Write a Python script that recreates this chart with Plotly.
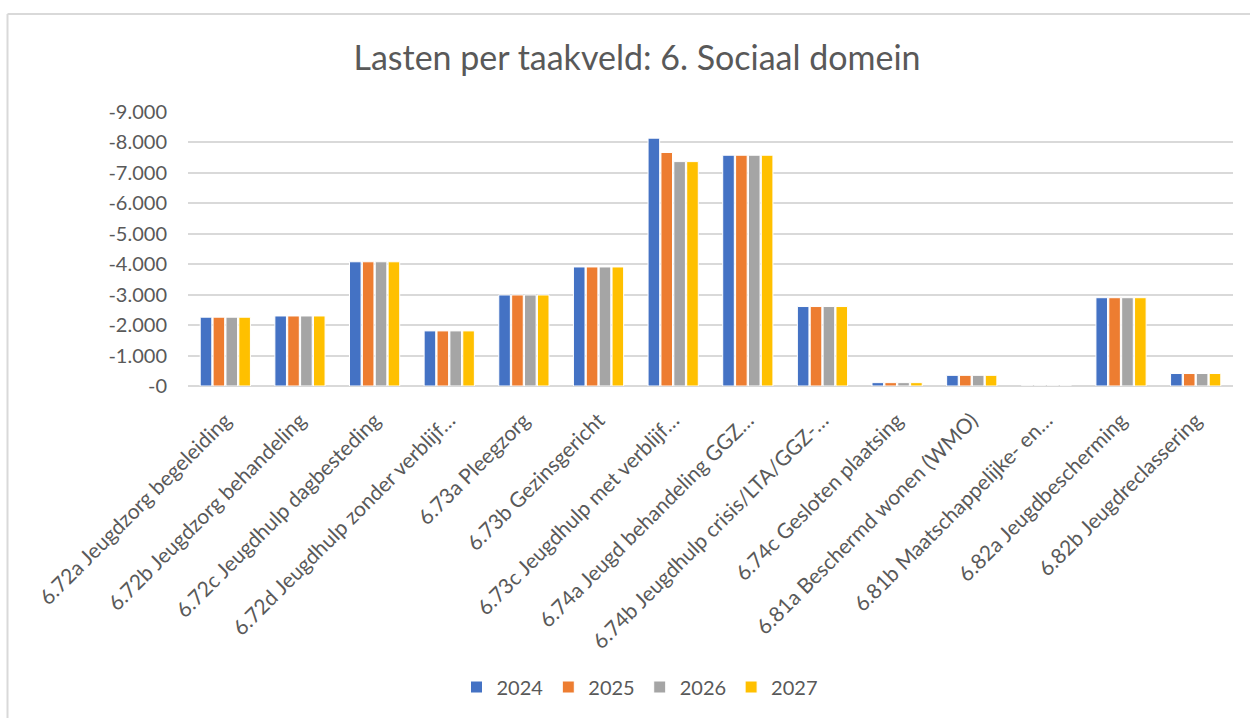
import plotly.graph_objects as go

categories = [
    "6.72a Jeugdzorg begeleiding",
    "6.72b Jeugdzorg behandeling",
    "6.72c Jeugdhulp dagbesteding",
    "6.72d Jeugdhulp zonder verblijf…",
    "6.73a Pleegzorg",
    "6.73b Gezinsgericht",
    "6.73c Jeugdhulp met verblijf…",
    "6.74a Jeugd behandeling GGZ…",
    "6.74b Jeugdhulp crisis/LTA/GGZ-…",
    "6.74c Gesloten plaatsing",
    "6.81a Beschermd wonen (WMO)",
    "6.81b Maatschappelijke- en…",
    "6.82a Jeugdbescherming",
    "6.82b Jeugdreclassering",
]

v2024 = [-2260, -2300, -4080, -1810, -2990, -3910, -8140, -7580, -2610, -110, -350, 0, -2900, -410]
v2025 = [-2260, -2300, -4080, -1810, -2990, -3910, -7670, -7580, -2610, -110, -350, 0, -2900, -410]
v2026 = [-2260, -2300, -4080, -1810, -2990, -3910, -7370, -7580, -2610, -110, -350, 0, -2900, -410]
v2027 = [-2260, -2300, -4080, -1810, -2990, -3910, -7370, -7580, -2610, -110, -350, 0, -2900, -410]

series_names = ["2024", "2025", "2026", "2027"]
series_values = [v2024, v2025, v2026, v2027]
colors = ["#4472C4", "#ED7D31", "#A5A5A5", "#FFC000"]

y_tick_values = [0, -1000, -2000, -3000, -4000, -5000, -6000, -7000, -8000, -9000]
y_tick_labels = ["-0", "-1.000", "-2.000", "-3.000", "-4.000", "-5.000", "-6.000", "-7.000", "-8.000", "-9.000"]

W, H = 1250, 718
L, R, T, B = 188, 17, 112, 332
pw, ph = W - L - R, H - T - B

fig = go.Figure()
for name, vals, col in zip(series_names, series_values, colors):
    fig.add_trace(go.Bar(
        x=categories, y=vals, name=name,
        marker=dict(color=col, line=dict(color="white", width=1)),
    ))

txt = "#595959"
fig.update_layout(
    width=W, height=H,
    margin=dict(l=L, r=R, t=T, b=B, autoexpand=False),
    paper_bgcolor="white", plot_bgcolor="white",
    barmode="group", bargap=0.31, bargroupgap=0.1,
    font=dict(family="Lato, sans-serif", color=txt, size=20),
    title=dict(text="Lasten per taakveld: 6. Sociaal domein",
               x=637 / W, xref="container", xanchor="center",
               y=1 - 58 / H, yref="container", yanchor="middle",
               font=dict(size=34, color=txt)),
    legend=dict(orientation="h", x=0.512, xanchor="center", xref="container",
                y=1 - 687 / H, yref="container", yanchor="middle",
                font=dict(size=20, color=txt), itemwidth=30, traceorder="normal"),
    xaxis=dict(tickangle=-45, showgrid=False, showline=False, ticks="",
               tickfont=dict(size=21, color=txt), automargin=False,
               ticklabelstandoff=17),
    yaxis=dict(range=[0, -9000], tickvals=y_tick_values, ticktext=y_tick_labels,
               showgrid=True, gridcolor="#D9D9D9", gridwidth=1.5,
               zeroline=True, zerolinecolor="#D9D9D9", zerolinewidth=1.5,
               showline=False, ticks="", tickfont=dict(size=20, color=txt),
               automargin=False, ticklabelstandoff=20),
    shapes=[
        dict(type="line", xref="paper", yref="paper",
             x0=(7.5 - L) / pw, x1=(7.5 - L) / pw,
             y0=(T + ph - 14) / ph, y1=(T + ph - 730) / ph,
             line=dict(color="#D9D9D9", width=2)),
        dict(type="line", xref="paper", yref="paper",
             x0=(7.5 - L) / pw, x1=(1260 - L) / pw,
             y0=(T + ph - 14) / ph, y1=(T + ph - 14) / ph,
             line=dict(color="#D9D9D9", width=2)),
    ],
)

fig.write_html("out.html", config={"displayModeBar": False},
               post_script="document.body.style.margin='0px';")
